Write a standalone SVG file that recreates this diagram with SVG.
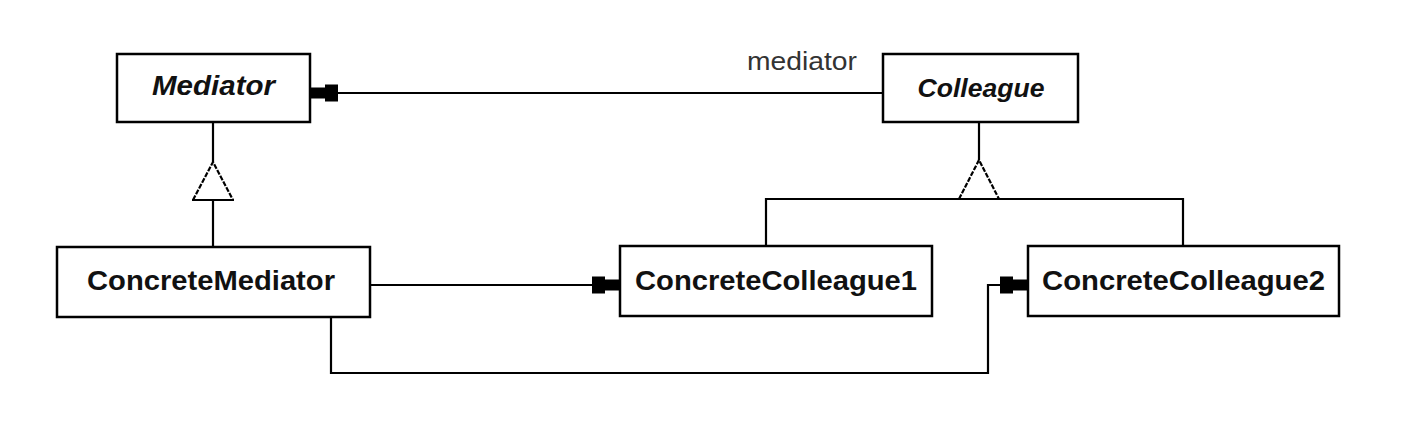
<svg xmlns="http://www.w3.org/2000/svg" width="1418" height="440" viewBox="0 0 1418 440">
  <style>
    .box { fill: #ffffff; stroke: #000000; stroke-width: 2.5; }
    .line { fill: none; stroke: #000000; stroke-width: 2.2; }
    .tri { fill: #ffffff; stroke: none; }
    .side { fill: none; stroke: #000000; stroke-width: 2.2; stroke-dasharray: 5 1.5; }
    .name { font-family: "Liberation Sans", Arial, sans-serif; font-weight: bold; fill: #111111; text-anchor: middle; }
    .abstract { font-style: italic; }
    .label { font-family: "Liberation Sans", Arial, sans-serif; fill: #333333; }
  </style>
  <defs>
    <marker id="head" markerUnits="userSpaceOnUse" viewBox="0 0 28 20" markerWidth="28" markerHeight="20" refX="27" refY="10" orient="auto">
      <path d="M0,1.5 H13 V4.5 H28 V15.5 H13 V18.5 H0 Z" fill="#000000"/>
    </marker>
  </defs>
  <rect x="0" y="0" width="1418" height="440" fill="#ffffff"/>

  <g id="connectors">
    <!-- Colleague -> Mediator (mediator) -->
    <line class="line" x1="883" y1="93" x2="311" y2="93" marker-end="url(#head)"/>
    <text class="label" x="747" y="70" font-size="25" textLength="110" lengthAdjust="spacingAndGlyphs">mediator</text>
    <!-- Mediator inheritance -->
    <line class="line" x1="213" y1="122" x2="213" y2="162"/>
    <polygon class="tri" points="213,162 193,200 233,200"/>
    <polyline class="side" points="193,200 213,162 233,200"/>
    <line class="line" x1="192" y1="200" x2="234" y2="200"/>
    <line class="line" x1="213" y1="200" x2="213" y2="247"/>
    <!-- Colleague inheritance -->
    <line class="line" x1="979" y1="122" x2="979" y2="160"/>
    <polygon class="tri" points="979,160 959,199 999,199"/>
    <polyline class="side" points="959,199 979,160 999,199"/>
    <polyline class="line" points="766,246 766,199 1183,199 1183,246"/>
    <!-- ConcreteMediator -> ConcreteColleague1 -->
    <line class="line" x1="370" y1="285" x2="619" y2="285" marker-end="url(#head)"/>
    <!-- ConcreteMediator -> ConcreteColleague2 -->
    <polyline class="line" points="331,317 331,373 988,373 988,285 1027,285" marker-end="url(#head)"/>
  </g>

  <g id="Mediator">
    <rect class="box" x="117" y="54" width="193" height="68"/>
    <text class="name abstract" x="213.5" y="95" font-size="28" textLength="123" lengthAdjust="spacingAndGlyphs">Mediator</text>
  </g>

  <g id="Colleague">
    <rect class="box" x="883" y="54" width="195" height="68"/>
    <text class="name abstract" x="981" y="97" font-size="26" textLength="127" lengthAdjust="spacingAndGlyphs">Colleague</text>
  </g>

  <g id="ConcreteMediator">
    <rect class="box" x="57" y="247" width="313" height="70"/>
    <text class="name" x="211" y="290" font-size="28" textLength="248" lengthAdjust="spacingAndGlyphs">ConcreteMediator</text>
  </g>

  <g id="ConcreteColleague1">
    <rect class="box" x="620" y="246" width="312" height="70"/>
    <text class="name" x="776" y="290" font-size="28" textLength="282" lengthAdjust="spacingAndGlyphs">ConcreteColleague1</text>
  </g>

  <g id="ConcreteColleague2">
    <rect class="box" x="1028" y="246" width="311" height="70"/>
    <text class="name" x="1183.5" y="290" font-size="28" textLength="283" lengthAdjust="spacingAndGlyphs">ConcreteColleague2</text>
  </g>
</svg>
